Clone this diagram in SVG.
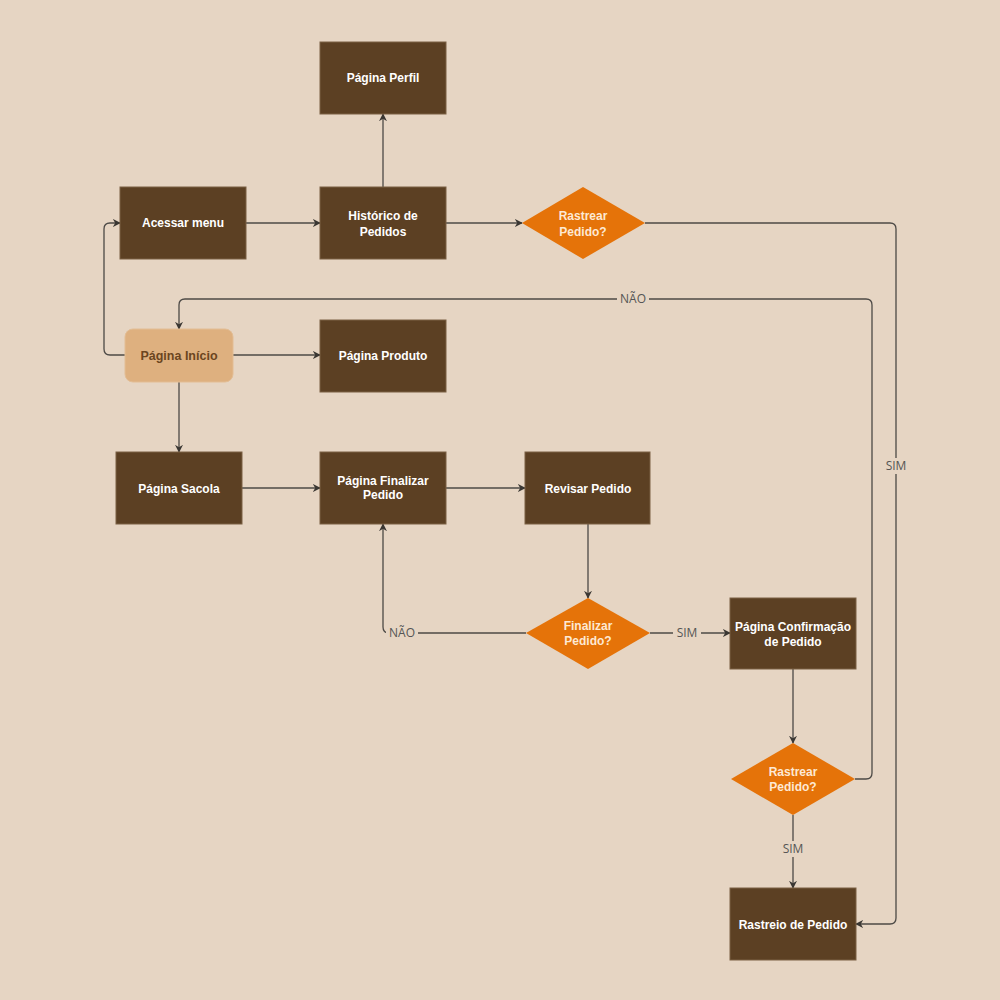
<svg xmlns="http://www.w3.org/2000/svg" width="1000" height="1000" viewBox="0 0 1000 1000">
  <defs>
    <style>
      .box { fill: #5c4023; stroke: #7a6045; stroke-width: 1; }
      .start { fill: #deb07f; stroke: #e3bd94; stroke-width: 1; }
      .dec { fill: #e57309; }
      .t { font-family: "Liberation Sans", Arial, sans-serif; font-size: 12px; font-weight: bold; fill: #ffffff; text-anchor: middle; }
      .ts { font-family: "Liberation Sans", Arial, sans-serif; font-size: 12.5px; font-weight: bold; fill: #6b4520; text-anchor: middle; }
      .td { font-family: "Liberation Sans", Arial, sans-serif; font-size: 12px; font-weight: bold; fill: #fde9d4; text-anchor: middle; }
      .edge { fill: none; stroke: #4d4a46; stroke-width: 1.3; marker-end: url(#arr); }
      .lbl { font-family: "Open Sans", "DejaVu Sans", sans-serif; font-size: 12px; fill: #555555; text-anchor: middle; }
      .lblbg { fill: #e6d5c3; }
    </style>
    <marker id="arr" viewBox="0 0 10 10" refX="9" refY="5" markerWidth="8" markerHeight="8" markerUnits="userSpaceOnUse" orient="auto">
      <path d="M0,0 L10,5 L0,10 L3,5 Z" fill="#3a3733"/>
    </marker>
  </defs>

  <rect x="0" y="0" width="1000" height="1000" fill="#e6d5c3"/>

  <!-- connectors -->
  <g id="connectors">
    <path class="edge" d="M246,223 L320,223"/>
    <path class="edge" d="M383,187 L383,114"/>
    <path class="edge" d="M446,223 L522,223"/>
    <path class="edge" d="M645,223 L890,223 Q896,223 896,229 L896,918 Q896,924 890,924 L856,924"/>
    <path class="edge" d="M125,355 L110,355 Q104,355 104,349 L104,229 Q104,223 110,223 L120,223"/>
    <path class="edge" d="M233,355 L320,355"/>
    <path class="edge" d="M179,382 L179,452"/>
    <path class="edge" d="M855,779 L866,779 Q872,779 872,773 L872,305 Q872,299 866,299 L185,299 Q179,299 179,305 L179,329"/>
    <path class="edge" d="M242,488 L320,488"/>
    <path class="edge" d="M446,488 L525,488"/>
    <path class="edge" d="M588,524 L588,598"/>
    <path class="edge" d="M526,633 L389,633 Q383,633 383,627 L383,524"/>
    <path class="edge" d="M650,633 L730,633"/>
    <path class="edge" d="M793,669 L793,743"/>
    <path class="edge" d="M793,815 L793,888"/>

    <rect class="lblbg" x="882" y="458" width="28" height="16"/>
    <text class="lbl" x="896" y="470">SIM</text>
    <rect class="lblbg" x="617" y="291" width="32" height="16"/>
    <text class="lbl" x="633" y="303">NÃO</text>
    <rect class="lblbg" x="386" y="625" width="32" height="16"/>
    <text class="lbl" x="402" y="637">NÃO</text>
    <rect class="lblbg" x="673" y="625" width="28" height="16"/>
    <text class="lbl" x="687" y="637">SIM</text>
    <rect class="lblbg" x="779" y="841" width="28" height="16"/>
    <text class="lbl" x="793" y="853">SIM</text>
  </g>

  <!-- nodes -->
  <g id="pagina-perfil">
    <rect class="box" x="320" y="42" width="126" height="72"/>
    <text class="t" x="383" y="82">Página Perfil</text>
  </g>
  <g id="acessar-menu">
    <rect class="box" x="120" y="187" width="126" height="72"/>
    <text class="t" x="183" y="227">Acessar menu</text>
  </g>
  <g id="historico-pedidos">
    <rect class="box" x="320" y="187" width="126" height="72"/>
    <text class="t" x="383" y="220">Histórico de</text>
    <text class="t" x="383" y="236">Pedidos</text>
  </g>
  <g id="rastrear-pedido-1">
    <polygon class="dec" points="583,187 645,223 583,259 522,223"/>
    <text class="td" x="583" y="220">Rastrear</text>
    <text class="td" x="583" y="236">Pedido?</text>
  </g>
  <g id="pagina-inicio">
    <rect class="start" x="125" y="329" width="108" height="53" rx="8" ry="8"/>
    <text class="ts" x="179" y="360">Página Início</text>
  </g>
  <g id="pagina-produto">
    <rect class="box" x="320" y="320" width="126" height="72"/>
    <text class="t" x="383" y="360">Página Produto</text>
  </g>
  <g id="pagina-sacola">
    <rect class="box" x="116" y="452" width="126" height="72"/>
    <text class="t" x="179" y="493">Página Sacola</text>
  </g>
  <g id="pagina-finalizar-pedido">
    <rect class="box" x="320" y="452" width="126" height="72"/>
    <text class="t" x="383" y="485">Página Finalizar</text>
    <text class="t" x="383" y="499">Pedido</text>
  </g>
  <g id="revisar-pedido">
    <rect class="box" x="525" y="452" width="125" height="72"/>
    <text class="t" x="588" y="493">Revisar Pedido</text>
  </g>
  <g id="finalizar-pedido">
    <polygon class="dec" points="588,598 650,633 588,669 526,633"/>
    <text class="td" x="588" y="630">Finalizar</text>
    <text class="td" x="588" y="645">Pedido?</text>
  </g>
  <g id="pagina-confirmacao">
    <rect class="box" x="730" y="598" width="126" height="71"/>
    <text class="t" x="793" y="631">Página Confirmação</text>
    <text class="t" x="793" y="646">de Pedido</text>
  </g>
  <g id="rastrear-pedido-2">
    <polygon class="dec" points="793,743 855,779 793,815 731,779"/>
    <text class="td" x="793" y="776">Rastrear</text>
    <text class="td" x="793" y="791">Pedido?</text>
  </g>
  <g id="rastreio-pedido">
    <rect class="box" x="730" y="888" width="126" height="72"/>
    <text class="t" x="793" y="929">Rastreio de Pedido</text>
  </g>
</svg>
